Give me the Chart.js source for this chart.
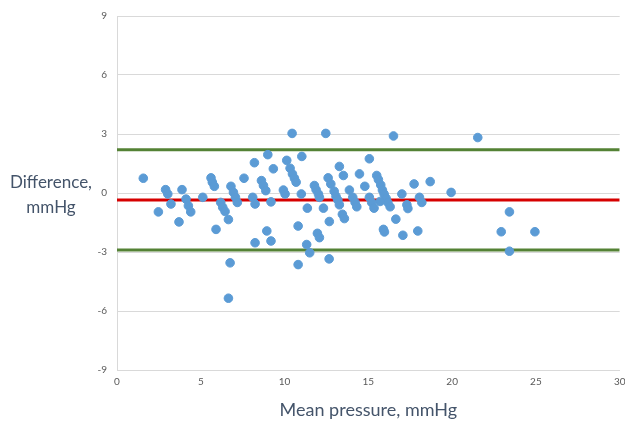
<!DOCTYPE html>
<html>
<head>
<meta charset="utf-8">
<script src="https://cdn.jsdelivr.net/npm/chart.js@4.4.1/dist/chart.umd.min.js"></script>
<style>
  html, body { margin: 0; padding: 0; background: #fff; }
  #wrap { width: 625px; height: 429px; position: relative; }
</style>
</head>
<body>
<div id="wrap"><canvas id="chart" width="625" height="429"></canvas></div>
<script>
// Bland-Altman data
const meanPressure = [
  1.57, 2.47, 2.9, 3.03, 3.22, 3.7, 3.88, 4.12, 4.26, 4.4,
  5.12, 5.61, 5.69, 5.81, 5.91, 6.19, 6.31, 6.45, 6.65, 6.75,
  6.65, 6.8, 6.95, 7.07, 7.18, 7.58, 8.1, 8.24, 8.2, 8.24,
  8.62, 8.74, 8.88, 9.0, 8.94, 9.19, 9.19, 9.33,
  10.45, 12.46, 16.5, 10.13, 11.03, 10.33, 10.47, 10.59, 10.69, 9.93,
  10.03, 11.0, 11.36, 10.81, 11.32, 11.5, 10.81, 11.78, 11.88, 12.02,
  12.08, 12.32, 11.96, 12.08, 12.66, 12.67, 12.6, 12.76, 12.96, 13.07,
  13.18, 13.27, 13.27, 13.51, 13.45, 13.57, 13.87, 14.07, 14.21, 14.31,
  14.47, 14.79, 15.06, 15.06, 15.2, 15.34, 15.5, 15.6, 15.74, 15.84,
  15.94, 16.06, 16.16, 16.3, 15.7, 15.9, 15.96, 16.64, 17.06, 17.0,
  17.3, 17.36, 17.73, 17.95, 18.05, 18.19, 18.69,
  19.94, 21.53, 23.42, 22.93, 24.94, 23.42
];
const difference = [
  0.75, -0.96, 0.17, -0.05, -0.56, -1.47, 0.17, -0.31, -0.65, -0.96,
  -0.22, 0.77, 0.55, 0.34, -1.85, -0.48, -0.73, -0.94, -1.35, -3.55,
  -5.35, 0.34, 0.03, -0.22, -0.48, 0.75, -0.22, -0.56, 1.54, -2.53,
  0.63, 0.38, 0.12, 1.95, -1.93, -0.45, -2.44, 1.23,
  3.03, 3.03, 2.9, 1.66, 1.86, 1.26, 0.97, 0.75, 0.55, 0.15,
  -0.05, -0.05, -0.77, -1.68, -2.62, -3.04, -3.64, 0.38, 0.17, -0.05,
  -0.22, -0.77, -2.05, -2.27, -3.35, -1.45, 0.77, 0.46, 0.09, -0.17,
  -0.36, -0.6, 1.35, 0.89, -1.08, -1.3, 0.15, -0.22, -0.48, -0.7,
  0.97, 0.34, 1.74, -0.22, -0.48, -0.77, 0.89, 0.68, 0.41, 0.15,
  -0.05, -0.27, -0.48, -0.7, -0.43, -1.85, -1.98, -1.33, -2.15, -0.05,
  -0.6, -0.79, 0.46, -1.93, -0.22, -0.48, 0.58,
  0.03, 2.82, -0.96, -1.97, -1.97, -2.96
];
const meanDifference = -0.35;
const upperLimit = 2.2;
const lowerLimit = -2.9;
const xRange = [0, 30];
const yRange = [-9, 9];
const xTitle = 'Mean pressure, mmHg';
const yTitle = ['Difference,', 'mmHg'];

const points = meanPressure.map((x, i) => ({ x: x, y: difference[i] }));

function flatLine(y) {
    return [{ x: xRange[0], y: y }, { x: xRange[1], y: y }];
}

// horizontal axis titles drawn on the canvas
const titlesPlugin = {
    id: 'titles',
    afterDraw(chart) {
        const ctx = chart.ctx;
        const area = chart.chartArea;
        ctx.save();
        ctx.fillStyle = '#44546a';
        ctx.textAlign = 'center';
        ctx.textBaseline = 'middle';
        ctx.font = '18px Lato';
        ctx.fillText(xTitle, (area.left + area.right) / 2, 410);
        ctx.font = '17px Lato';
        ctx.fillText(yTitle[0], 51, 183);
        ctx.fillText(yTitle[1], 51, 208);
        ctx.restore();
    }
};

const ctx = document.getElementById('chart').getContext('2d');
new Chart(ctx, {
    type: 'scatter',
    data: {
        datasets: [
            {
                label: 'Difference',
                data: points,
                backgroundColor: '#5b9bd5',
                borderColor: '#5b9bd5',
                pointRadius: 4.3,
                pointHoverRadius: 4.3
            },
            {
                label: 'Mean',
                type: 'line',
                data: flatLine(meanDifference),
                borderColor: '#d60000',
                borderWidth: 3,
                pointRadius: 0,
                fill: false
            },
            {
                label: 'Upper limit',
                type: 'line',
                data: flatLine(upperLimit),
                borderColor: '#548235',
                borderWidth: 3,
                pointRadius: 0,
                fill: false
            },
            {
                label: 'Lower limit',
                type: 'line',
                data: flatLine(lowerLimit),
                borderColor: '#548235',
                borderWidth: 3,
                pointRadius: 0,
                fill: false
            }
        ]
    },
    options: {
        responsive: false,
        animation: false,
        layout: { padding: { top: 14, right: 5, left: 0, bottom: 0 } },
        plugins: {
            legend: { display: false },
            tooltip: { enabled: false }
        },
        scales: {
            x: {
                type: 'linear',
                min: xRange[0],
                max: xRange[1],
                ticks: { stepSize: 5, color: '#595959', font: { family: 'Lato', size: 10 }, padding: 6 },
                grid: { display: false, drawTicks: false },
                border: { color: '#d9d9d9', width: 1 },
                afterFit(scale) {
                    scale.height = 59;
                    scale.paddingLeft = 0;
                    scale.paddingRight = 0;
                }
            },
            y: {
                min: yRange[0],
                max: yRange[1],
                ticks: { stepSize: 3, color: '#595959', font: { family: 'Lato', size: 10 }, padding: 10 },
                grid: { color: '#d9d9d9', lineWidth: 1, drawTicks: false },
                border: { color: '#d9d9d9', width: 1 },
                afterFit(scale) { scale.width = 117; }
            }
        }
    },
    plugins: [titlesPlugin]
});
</script>
</body>
</html>
